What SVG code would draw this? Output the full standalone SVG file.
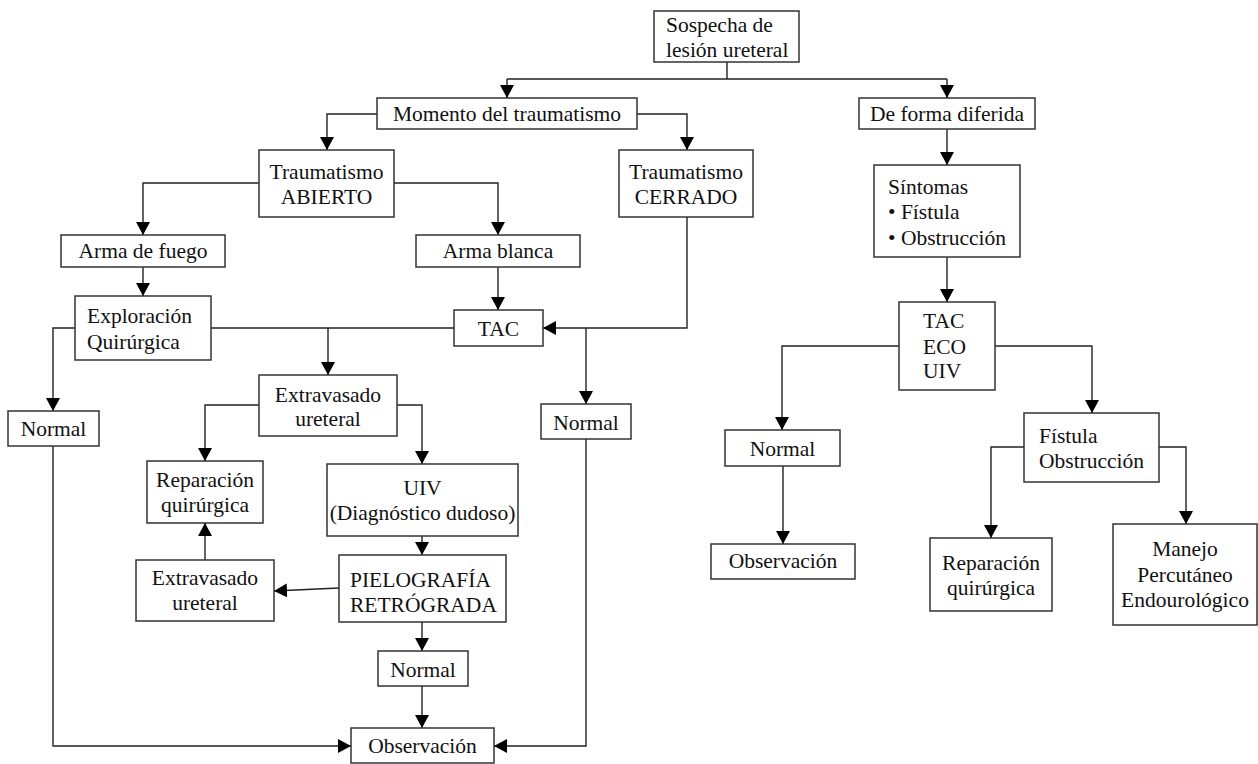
<svg xmlns="http://www.w3.org/2000/svg" width="1258" height="764" viewBox="0 0 1258 764">
  <style>
    .box { fill: #ffffff; stroke: #333333; stroke-width: 1.5; }
    .lbl { font-family: "Liberation Serif", "Times New Roman", serif; font-size: 21.5px; fill: #111111; }
    .c { text-anchor: middle; }
    .l { text-anchor: start; }
    .wire { fill: none; stroke: #222222; stroke-width: 1.4; }
    .arr { fill: none; stroke: #222222; stroke-width: 1.4; marker-end: url(#head); }
  </style>
  <defs>
    <marker id="head" markerUnits="userSpaceOnUse" markerWidth="13" markerHeight="14" viewBox="0 0 13 14" refX="13" refY="7" orient="auto">
      <path d="M0,0 L13,7 L0,14 Z" fill="#000000"/>
    </marker>
  </defs>
  <rect width="1258" height="764" fill="#ffffff"/>

  <!-- connectors -->
  <g id="connectors">
    <path class="wire" d="M727,62 V79 M507,79 H947"/>
    <path class="arr" d="M507,79 V98"/>
    <path class="arr" d="M947,79 V98"/>
    <path class="arr" d="M377,114 H327 V150"/>
    <path class="arr" d="M637,114 H687 V150"/>
    <path class="arr" d="M259,183 H143 V235"/>
    <path class="arr" d="M394,183 H498 V235"/>
    <path class="arr" d="M143,267 V296"/>
    <path class="arr" d="M498,267 V310"/>
    <path class="wire" d="M211,328 H454"/>
    <path class="arr" d="M328,328 V375"/>
    <path class="arr" d="M75,328 H53 V411"/>
    <path class="arr" d="M687,217 V328 H543"/>
    <path class="arr" d="M586,328 V404"/>
    <path class="arr" d="M947,129 V165"/>
    <path class="arr" d="M947,257 V302"/>
    <path class="arr" d="M899,346 H782 V430"/>
    <path class="arr" d="M995,346 H1092 V413"/>
    <path class="arr" d="M1024,447 H991 V538"/>
    <path class="arr" d="M1159,447 H1186 V524"/>
    <path class="arr" d="M783,466 V544"/>
    <path class="arr" d="M259,405 H205 V461"/>
    <path class="arr" d="M397,405 H422 V464"/>
    <path class="arr" d="M422,536 V555"/>
    <path class="arr" d="M422,622 V651"/>
    <path class="arr" d="M422,686 V728"/>
    <path class="arr" d="M339,588 L274,591"/>
    <path class="arr" d="M205,560 V523"/>
    <path class="arr" d="M53,446 V746 H351"/>
    <path class="arr" d="M586,439 V746 H494"/>
  </g>

  <!-- nodes -->
  <g id="n-sospecha">
    <rect class="box" x="654" y="11" width="145" height="51"/>
    <text class="lbl l" x="666" y="32">Sospecha de</text>
    <text class="lbl l" x="666" y="57">lesión ureteral</text>
  </g>
  <g id="n-momento">
    <rect class="box" x="377" y="98" width="260" height="31"/>
    <text class="lbl c" x="507" y="121">Momento del traumatismo</text>
  </g>
  <g id="n-diferida">
    <rect class="box" x="859" y="98" width="176" height="31"/>
    <text class="lbl c" x="947" y="121">De forma diferida</text>
  </g>
  <g id="n-abierto">
    <rect class="box" x="259" y="150" width="135" height="67"/>
    <text class="lbl c" x="326.5" y="179">Traumatismo</text>
    <text class="lbl c" x="326.5" y="204">ABIERTO</text>
  </g>
  <g id="n-cerrado">
    <rect class="box" x="619" y="150" width="134" height="67"/>
    <text class="lbl c" x="686" y="179">Traumatismo</text>
    <text class="lbl c" x="686" y="204">CERRADO</text>
  </g>
  <g id="n-sintomas">
    <rect class="box" x="874" y="165" width="146" height="92"/>
    <text class="lbl l" x="888" y="194">Síntomas</text>
    <text class="lbl l" x="888" y="219">• Fístula</text>
    <text class="lbl l" x="888" y="245">• Obstrucción</text>
  </g>
  <g id="n-fuego">
    <rect class="box" x="61" y="235" width="164" height="32"/>
    <text class="lbl c" x="143" y="258">Arma de fuego</text>
  </g>
  <g id="n-blanca">
    <rect class="box" x="416" y="235" width="164" height="32"/>
    <text class="lbl c" x="498" y="258">Arma blanca</text>
  </g>
  <g id="n-exploracion">
    <rect class="box" x="75" y="296" width="136" height="64"/>
    <text class="lbl l" x="87" y="323">Exploración</text>
    <text class="lbl l" x="87" y="349">Quirúrgica</text>
  </g>
  <g id="n-tac">
    <rect class="box" x="454" y="310" width="89" height="36"/>
    <text class="lbl c" x="498.5" y="336">TAC</text>
  </g>
  <g id="n-tac-eco-uiv">
    <rect class="box" x="899" y="302" width="96" height="88"/>
    <text class="lbl l" x="923" y="328">TAC</text>
    <text class="lbl l" x="923" y="354">ECO</text>
    <text class="lbl l" x="923" y="378">UIV</text>
  </g>
  <g id="n-extravasado-1">
    <rect class="box" x="259" y="375" width="138" height="61"/>
    <text class="lbl c" x="328" y="402">Extravasado</text>
    <text class="lbl c" x="328" y="426">ureteral</text>
  </g>
  <g id="n-normal-1">
    <rect class="box" x="8" y="411" width="91" height="35"/>
    <text class="lbl c" x="53.5" y="436">Normal</text>
  </g>
  <g id="n-normal-2">
    <rect class="box" x="541" y="404" width="90" height="35"/>
    <text class="lbl c" x="586" y="430">Normal</text>
  </g>
  <g id="n-normal-3">
    <rect class="box" x="725" y="430" width="115" height="36"/>
    <text class="lbl c" x="782.5" y="456">Normal</text>
  </g>
  <g id="n-fistula">
    <rect class="box" x="1024" y="413" width="135" height="69"/>
    <text class="lbl l" x="1039" y="443">Fístula</text>
    <text class="lbl l" x="1039" y="468">Obstrucción</text>
  </g>
  <g id="n-reparacion-1">
    <rect class="box" x="147" y="461" width="116" height="62"/>
    <text class="lbl c" x="205" y="487">Reparación</text>
    <text class="lbl c" x="205" y="512">quirúrgica</text>
  </g>
  <g id="n-uiv">
    <rect class="box" x="327" y="464" width="191" height="72"/>
    <text class="lbl c" x="422.5" y="495">UIV</text>
    <text class="lbl c" x="422.5" y="520">(Diagnóstico dudoso)</text>
  </g>
  <g id="n-observacion-2">
    <rect class="box" x="711" y="544" width="144" height="35"/>
    <text class="lbl c" x="783" y="568">Observación</text>
  </g>
  <g id="n-reparacion-2">
    <rect class="box" x="930" y="538" width="122" height="73"/>
    <text class="lbl c" x="991" y="570">Reparación</text>
    <text class="lbl c" x="991" y="595">quirúrgica</text>
  </g>
  <g id="n-manejo">
    <rect class="box" x="1113" y="524" width="144" height="101"/>
    <text class="lbl c" x="1185" y="556">Manejo</text>
    <text class="lbl c" x="1185" y="582">Percutáneo</text>
    <text class="lbl c" x="1185" y="607">Endourológico</text>
  </g>
  <g id="n-extravasado-2">
    <rect class="box" x="136" y="560" width="138" height="61"/>
    <text class="lbl c" x="205" y="585">Extravasado</text>
    <text class="lbl c" x="205" y="610">ureteral</text>
  </g>
  <g id="n-pielografia">
    <rect class="box" x="339" y="555" width="167" height="67"/>
    <text class="lbl l" x="350" y="587">PIELOGRAFÍA</text>
    <text class="lbl l" x="350" y="612">RETRÓGRADA</text>
  </g>
  <g id="n-normal-4">
    <rect class="box" x="378" y="651" width="90" height="35"/>
    <text class="lbl c" x="423" y="677">Normal</text>
  </g>
  <g id="n-observacion-1">
    <rect class="box" x="351" y="728" width="143" height="35"/>
    <text class="lbl c" x="422.5" y="753">Observación</text>
  </g>
</svg>
